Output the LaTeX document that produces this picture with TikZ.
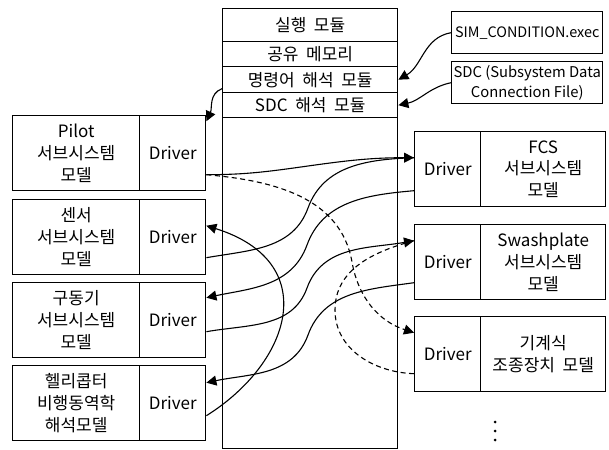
\documentclass[tikz,border=0pt]{standalone}
\usepackage{fontspec}
\setmainfont{Noto Sans CJK KR}[WordSpace=2]
\newfontfamily\filefont{Noto Sans CJK KR}
\usetikzlibrary{arrows.meta,calc}
\begin{document}
\begin{tikzpicture}[x=1pt,y=1pt,
  box/.style={draw,line width=1.4pt,inner sep=0pt,align=center,anchor=north west,
    font=\fontsize{17}{21.7}\selectfont},
  filebox/.style={box,minimum width=151pt,minimum height=42pt},
  conn/.style={line width=1.1pt},
  tip/.style={-{Triangle[length=10pt,width=10pt]}},
  dsh/.style={conn,dash pattern=on 5pt off 3.5pt}]
\useasboundingbox (0,0) rectangle (609,-449);

% central column
\node[box,minimum width=175pt,minimum height=33pt] (exec) at (222,-8) {실행 모듈};
\node[box,minimum width=175pt,minimum height=25pt] (mem) at (222,-41) {공유 메모리};
\node[box,minimum width=175pt,minimum height=26pt] (cmd) at (222,-66) {명령어 해석 모듈};
\node[box,minimum width=175pt,minimum height=25pt] (sdcm) at (222,-92) {SDC 해석 모듈};
\node[box,minimum width=175pt,minimum height=331pt] (body) at (222,-117) {};

% input files
\node[filebox,font=\filefont\fontsize{14.4}{19}\selectfont] (sim) at (451,-11) {SIM\_CONDITION.exec};
\node[filebox,font=\filefont\fontsize{14.8}{19.5}\selectfont] (sdc) at (451,-61) {SDC (Subsystem Data\\Connection File)};

% left models
\node[box,minimum width=127pt,minimum height=75pt] (pilotN) at (12,-115) {Pilot\\서브시스템\\모델};
\node[box,minimum width=66pt,minimum height=75pt] (pilotD) at (139,-115) {Driver};
\node[box,minimum width=127pt,minimum height=75pt] (sensN) at (12,-199) {센서\\서브시스템\\모델};
\node[box,minimum width=66pt,minimum height=75pt] (sensD) at (139,-199) {Driver};
\node[box,minimum width=127pt,minimum height=75pt] (actN) at (12,-282) {구동기\\서브시스템\\모델};
\node[box,minimum width=66pt,minimum height=75pt] (actD) at (139,-282) {Driver};
\node[box,minimum width=127pt,minimum height=75pt] (heliN) at (12,-365) {헬리콥터\\비행동역학\\해석모델};
\node[box,minimum width=66pt,minimum height=75pt] (heliD) at (139,-365) {Driver};

% right models
\node[box,minimum width=66pt,minimum height=75pt] (fcsD) at (414,-131) {Driver};
\node[box,minimum width=125pt,minimum height=75pt] (fcsN) at (480,-131) {FCS\\서브시스템\\모델};
\node[box,minimum width=66pt,minimum height=75pt] (swD) at (414,-224) {Driver};
\node[box,minimum width=125pt,minimum height=75pt] (swN) at (480,-224) {Swashplate\\서브시스템\\모델};
\node[box,minimum width=66pt,minimum height=75pt] (mechD) at (414,-316) {Driver};
\node[box,minimum width=125pt,minimum height=75pt] (mechN) at (480,-316) {기계식\\조종장치 모델};

% dots
\fill (495,-422) circle (1.5pt);
\fill (495,-431) circle (1.5pt);
\fill (495,-440) circle (1.5pt);

% endpoints
\coordinate (pOut) at ([yshift=-21.5pt]pilotD.east);
\coordinate (pIn) at ([yshift=32pt]pilotD.east);
\coordinate (sIn) at ([yshift=11.5pt]sensD.east);
\coordinate (sOut) at ([yshift=-20.5pt]sensD.east);
\coordinate (aIn) at ([yshift=22.5pt]actD.east);
\coordinate (aOut) at ([yshift=-11.5pt]actD.east);
\coordinate (hIn) at ([yshift=20.5pt]heliD.east);
\coordinate (hOut) at ([yshift=-12.5pt]heliD.east);
\coordinate (fIn) at ([yshift=11.5pt]fcsD.west);
\coordinate (fOut) at ([yshift=-21.5pt]fcsD.west);
\coordinate (wIn) at ([yshift=21.5pt]swD.west);
\coordinate (wOut) at ([yshift=-20.5pt]swD.west);
\coordinate (mIn) at ([yshift=21.5pt]mechD.west);
\coordinate (mOut) at ([yshift=-19.5pt]mechD.west);

% file arrows
\draw[conn,tip] (sim.west) to[out=190,in=30] (cmd.east);
\draw[conn,tip] (sdc.west) to[out=192,in=12] (sdcm.east);
\draw[conn,tip] ([yshift=-9pt]cmd.west) to[out=200,in=65] (pIn);

% model connectors
\draw[conn,tip] (pOut) to[out=0,in=188] (308,-166) to[out=8,in=180] (fIn);
\draw[conn] (sOut) to[out=10,in=250] (308,-208) to[out=70,in=182] (fIn);
\draw[conn,tip] (fOut) to[out=185,in=70] (307,-245) to[out=250,in=12] (aIn);
\draw[conn,tip] (aOut) to[out=10,in=250] (307,-288) to[out=70,in=190] (wIn);
\draw[conn,tip] (wOut) to[out=188,in=70] (308,-335) to[out=250,in=12] (hIn);
\draw[conn,tip] (hOut) .. controls (292,-362) and (322,-262) .. (sIn);
\draw[dsh,tip] (pOut) to[out=-5,in=100] (352,-262) to[out=-80,in=162] (mIn);
\draw[dsh] (mOut) to[out=178,in=-90] (335,-310) to[out=90,in=195] (wIn);
\end{tikzpicture}
\end{document}
